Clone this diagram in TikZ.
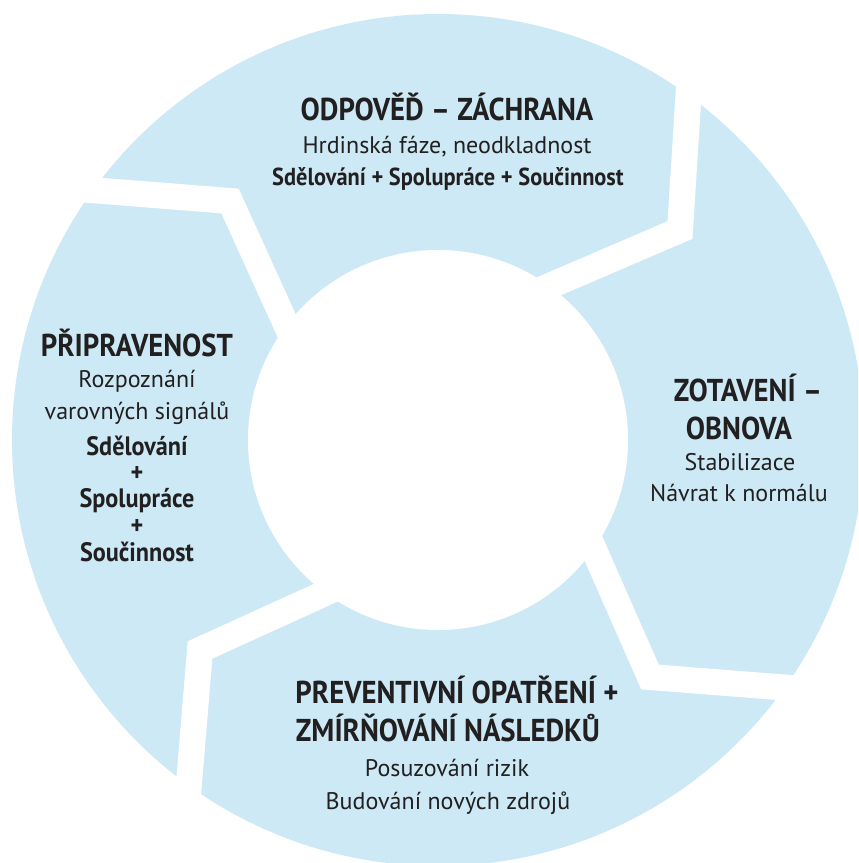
\documentclass[tikz,border=0pt]{standalone}
\usepackage{fontspec}
\setmainfont{PT Sans}[BoldFeatures={FakeStretch=0.91}]
\usetikzlibrary{positioning}
\definecolor{ringblue}{RGB}{205,233,245}
\definecolor{inktext}{RGB}{33,31,32}

\begin{document}
\begin{tikzpicture}[x=0.5pt, y=-0.5pt]
\tikzstyle{phase title}=[font=\bfseries\fontsize{15.8}{18}\selectfont, text=inktext, inner sep=0pt, anchor=base]
\tikzstyle{phase text}=[font=\fontsize{12}{14}\selectfont, text=inktext, inner sep=0pt, anchor=base]
\tikzstyle{phase bold}=[font=\bfseries\fontsize{12.3}{14}\selectfont, text=inktext, inner sep=0pt, anchor=base]
\tikzstyle{pillar}=[phase bold, font=\bfseries\fontsize{13.3}{15}\selectfont]
\tikzstyle{gap}=[draw=white, line width=13pt]

\useasboundingbox (0,0) rectangle (858,863);
\clip (0,0) rectangle (858,863);

% prstenec
\coordinate (M) at (438,440);
\fill[ringblue] (M) circle[radius=213pt];
\fill[white] (M) circle[radius=95pt];

% mezery mezi fazemi (sipky po smeru hodin)
\coordinate (gA1) at (40,186);
\coordinate (gA2) at (230,201);
\coordinate (gA3) at (300,355);

\coordinate (gB1) at (692,40);
\coordinate (gB2) at (680,230);
\coordinate (gB3) at (510,303);

\coordinate (gC1) at (580,518);
\coordinate (gC2) at (650,677);
\coordinate (gC3) at (880,695);

\coordinate (gD1) at (345,584);
\coordinate (gD2) at (200,650);
\coordinate (gD3) at (181,880);

\foreach \g in {A,B,C,D}
    \draw[gap] (g\g1) -- (g\g2) -- (g\g3);

% odpoved - zachrana
\node[phase title] (odpoved) at (447,120) {ODPOVĚĎ – ZÁCHRANA};
\node[phase text] (odpoved-a) at (447,153) {Hrdinská fáze, neodkladnost};
\node[phase bold] (odpoved-b) at (448,185) {Sdělování + Spolupráce + Součinnost};

% zotaveni - obnova
\node[phase title] (zotaveni) at (748,401) {ZOTAVENÍ –};
\node[phase title] (obnova) at (739,439) {OBNOVA};
\node[phase text] (zotaveni-a) at (740,470) {Stabilizace};
\node[phase text] (zotaveni-b) at (739,501) {Návrat k normálu};

% preventivni opatreni
\node[phase title] (prevence) at (457,703) {PREVENTIVNÍ OPATŘENÍ +};
\node[phase title] (zmirnovani) at (448,741) {ZMÍRŇOVÁNÍ NÁSLEDKŮ};
\node[phase text] (prevence-a) at (447,776) {Posuzování rizik};
\node[phase text] (prevence-b) at (448,809) {Budování nových zdrojů};

% pripravenost
\node[phase title] (pripravenost) at (137,356) {PŘIPRAVENOST};
\node[phase text] (pripravenost-a) at (137,387) {Rozpoznání};
\node[phase text] (pripravenost-b) at (137,419) {varovných signálů};
\node[pillar] (pripravenost-c) at (137,455) {Sdělování};
\node[pillar] (plus1) at (137,481) {+};
\node[pillar] (pripravenost-d) at (137,507) {Spolupráce};
\node[pillar] (plus2) at (137,534) {+};
\node[pillar] (pripravenost-e) at (137,561) {Součinnost};

\end{tikzpicture}
\end{document}
